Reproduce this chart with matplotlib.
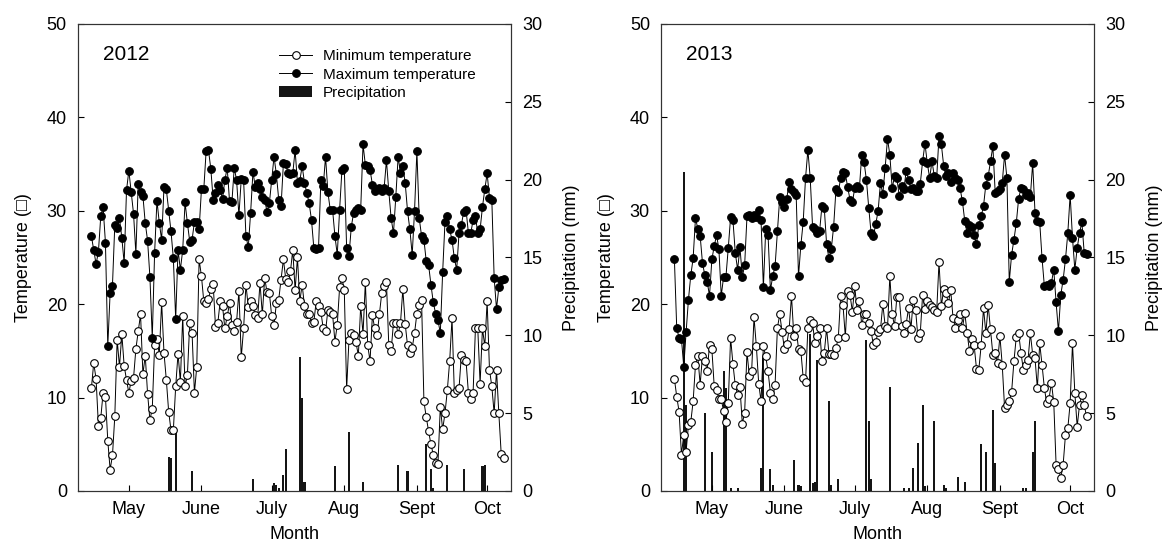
import pandas as pd
import matplotlib
matplotlib.use("Agg")
import matplotlib.pyplot as plt
from matplotlib.lines import Line2D
from matplotlib.patches import Patch

plt.rcParams['font.family'] = ['Liberation Sans', 'DejaVu Sans']

# daily series start on 29 April of each year
start_2012 = '2012-04-29'
start_2013 = '2013-04-29'

tmax_2012 = [27.3, 25.8, 24.3, 25.6, 29.4, 30.4, 26.6, 15.5, 21.2, 22.0,
             28.5, 28.2, 29.2, 27.1, 24.4, 32.2, 34.3, 32.0, 29.7, 25.4,
             32.9, 32.0, 31.6, 28.7, 26.8, 22.9, 16.4, 25.5, 31.1, 28.7,
             26.9, 32.5, 32.3, 30.0, 27.8, 24.9, 18.4, 25.8, 23.7, 25.8,
             30.9, 28.7, 26.7,
             26.9, 28.8, 28.8, 28.0, 32.3, 32.3, 36.4, 36.5, 34.5, 31.2,
             31.9, 32.8, 32.2, 31.3, 33.3, 34.6, 31.0, 30.9, 34.6, 33.3,
             29.5, 33.4, 33.3, 27.3, 26.1, 29.8, 34.2, 32.5, 33.0, 32.3,
             31.5, 31.2, 29.9, 30.8, 33.3, 35.8, 33.9, 31.2, 30.5, 35.1,
             35.0, 34.0, 33.9, 34.0, 36.5, 33.0, 33.2, 34.8, 33.0, 31.9,
             30.8,
             29.0, 26.0, 25.9, 26.0, 33.3, 32.6, 35.8, 32.0, 30.1, 30.1,
             27.3, 25.3, 30.1, 34.4, 34.6, 26.0, 25.2, 28.3, 29.8, 30.1,
             30.3, 30.1, 37.1, 34.9, 34.8, 34.4, 32.8, 32.1, 32.3, 32.4,
             32.1, 32.4, 35.4, 32.1, 29.2, 27.6, 31.5, 35.8, 34.0, 34.8,
             33.0, 30.0, 28.0, 25.3, 30.0, 36.4, 29.2, 27.3, 26.9, 24.6,
             24.2, 22.1, 20.2, 19.0, 18.3, 16.9, 23.4, 28.8, 29.4, 28.0,
             26.9, 24.9, 23.7, 27.6, 28.5, 29.9, 30.1, 27.6, 27.6, 29.0,
             29.4, 27.6, 28.0, 30.4, 32.3, 34.0, 31.4, 31.2, 22.8, 19.5,
             21.8, 22.6, 22.7]

tmin_2012 = [11.0, 13.7, 12.0, 7.0, 7.8, 10.5, 10.1, 5.4, 2.3, 3.8,
             8.0, 16.2, 13.3, 16.8, 13.4, 11.9, 10.5, 11.8, 12.1, 15.2,
             17.1, 18.9, 12.5, 14.5, 10.4, 7.6, 8.8, 15.6, 16.3, 14.6,
             20.2, 14.8, 11.9, 8.5, 6.5, 6.5, 11.2, 14.7, 11.7, 18.7,
             11.2, 12.4, 18.0, 16.9, 10.5, 13.3, 24.8, 23.0, 20.3, 20.1,
             20.6, 21.6, 22.2, 17.6, 18.0, 20.3, 19.8, 17.4, 18.7, 20.1,
             17.8, 17.1, 18.1, 21.4, 14.3, 17.4, 22.1, 19.7, 20.3, 19.8,
             18.8, 18.5, 22.3, 18.9, 22.8, 21.3, 21.2, 18.7, 17.8, 20.1,
             20.5, 22.6, 24.8, 22.7, 22.4, 23.5, 25.8, 21.5, 25.0, 20.3,
             22.1, 19.8, 18.9, 19.0,
             18.0, 18.1, 20.3, 19.8, 19.2, 17.4, 17.1, 19.4, 19.2, 18.9,
             16.0, 17.8, 21.8, 22.8, 21.5, 10.9, 16.2, 16.9, 16.7, 15.9,
             14.5, 19.8, 16.8, 22.4, 15.6, 13.9, 18.8, 17.4, 16.7, 19.0,
             21.2, 22.0, 22.4, 15.6, 15.0, 18.0, 18.0, 16.8, 18.0, 21.6,
             17.9, 15.6, 14.8, 15.3, 16.9, 19.0, 19.9, 20.5, 9.6, 7.9,
             6.4, 5.0, 3.9, 3.0, 2.9, 9.0, 6.6, 8.3, 10.8, 13.9,
             18.5, 10.5, 10.8, 11.0, 14.6, 14.0, 13.9, 10.5, 9.9, 10.5,
             17.4, 17.4, 11.5, 17.4, 15.5, 20.3, 13.0, 11.2, 8.3, 13.0,
             8.3, 4.0, 3.5]

tmax_2013 = [24.8, 17.4, 16.4, 16.3, 13.3, 17.0, 20.5, 23.1, 24.9, 29.2,
             28.1, 27.3, 24.4, 23.1, 22.4, 20.9, 24.8, 26.2, 27.4, 25.9,
             20.9, 22.9, 22.9, 26.0, 29.3, 29.0, 25.5, 23.7, 26.1, 22.9,
             24.2, 29.4, 29.6, 29.2, 29.5, 29.3, 30.1, 29.0, 21.8, 28.0,
             27.4, 21.5, 23.0, 24.1, 27.8, 31.5, 30.9, 30.4, 31.3, 33.1,
             32.3, 32.0, 31.7, 23.0, 26.3, 28.8, 33.5, 36.5, 33.5, 28.3,
             28.0, 27.6, 27.8, 30.5, 30.3, 26.4, 24.9, 25.9, 28.3, 32.3,
             32.0, 33.5, 34.1, 34.0, 32.5, 31.2, 30.9, 32.4, 32.6, 32.4,
             36.0, 35.2, 33.3, 30.3, 27.6, 27.3, 28.6, 30.0, 33.0, 31.8,
             34.6, 37.7, 36.0,
             32.4, 33.7, 33.5, 31.6, 32.6, 32.3, 34.3, 33.3, 32.3, 32.4,
             32.1, 32.1, 32.9, 35.3, 37.2, 35.1, 33.5, 35.3, 33.7, 33.5,
             38.0, 37.1, 34.8, 33.7, 34.0, 33.1, 34.0, 33.5, 33.3, 32.4,
             31.0, 28.9, 27.6, 28.5, 28.3, 27.4, 26.4, 28.5, 29.4, 30.5,
             32.8, 33.7, 35.3, 36.9, 31.9, 32.1, 32.3, 33.0, 36.0, 33.5,
             22.4, 25.3, 26.9, 28.7, 31.3, 32.4, 32.3, 31.7, 31.9, 31.5,
             35.1, 29.8, 28.9, 28.8, 24.9, 21.9, 22.1, 21.9, 22.3, 23.7,
             20.2, 17.1, 21.0, 22.6, 24.8, 27.6, 31.7, 27.1, 23.7, 26.0,
             27.6, 28.8, 25.5, 25.4]

tmin_2013 = [12.0, 10.1, 8.5, 3.9, 6.0, 4.2, 7.1, 7.4, 9.6, 13.5,
             14.4, 11.4, 14.5, 13.9, 12.9, 15.6, 15.2, 11.2, 10.8, 9.9,
             9.8, 8.6, 7.4, 9.4, 16.4, 13.6, 11.3, 10.3, 11.1, 7.2,
             8.4, 14.9, 12.3, 12.9, 18.6, 15.5, 11.5, 9.6, 15.5, 14.4,
             12.8, 10.5, 9.9, 11.4, 17.5, 18.9, 17.0, 15.2, 15.7, 17.3,
             20.9, 16.6, 17.4, 15.2, 15.0, 12.1, 11.7, 17.4, 18.3, 18.0,
             15.8, 16.6, 17.5, 13.9, 14.8, 17.4, 14.7, 14.7, 14.6, 15.3,
             16.4, 20.9, 19.9, 16.5, 21.4, 21.0, 19.2, 21.9, 19.4, 20.3,
             17.8, 18.9, 18.9, 18.0, 17.1, 15.6, 16.0, 17.0, 17.3, 20.0,
             17.7, 17.4,
             23.0, 18.9, 17.7, 20.8, 20.8, 17.7, 16.9, 17.9, 19.6, 17.3,
             20.5, 19.4, 16.4, 16.9, 21.0, 19.5, 20.3, 19.9, 19.7, 19.4,
             19.2, 24.5, 19.8, 21.6, 21.2, 20.1, 21.5, 18.5, 17.5, 18.3,
             18.9, 17.4, 19.1, 16.9, 15.0, 16.3, 15.6, 13.1, 13.0, 15.6,
             19.6, 16.9, 19.9, 17.3, 14.6, 14.8, 13.7, 16.6, 13.5, 8.9,
             9.2, 9.6, 10.6, 13.9, 16.5, 16.9, 14.8, 13.0, 13.5, 14.0,
             16.9, 14.6, 14.2, 11.0, 15.8, 13.5, 11.0, 9.4, 9.9, 11.6,
             9.5, 2.8, 2.4, 1.4, 2.8, 6.0, 6.7, 9.4, 15.8, 10.5,
             6.9, 9.2, 10.3, 9.2, 8.0]

rain_days_2012 = ['2012-06-01', '2012-06-02', '2012-06-04', '2012-06-11',
                  '2012-07-07', '2012-07-16', '2012-07-17', '2012-07-18',
                  '2012-07-20', '2012-07-21', '2012-07-27', '2012-07-28',
                  '2012-07-29', '2012-08-11', '2012-08-17', '2012-08-23',
                  '2012-09-07', '2012-09-11', '2012-09-19', '2012-09-21',
                  '2012-09-22', '2012-09-28', '2012-10-05', '2012-10-13',
                  '2012-10-14']
rain_2012 = [2.2, 2.1, 3.8, 1.3,
             0.8, 0.5, 0.4, 0.2,
             1.0, 2.7, 8.6, 6.0,
             0.6, 1.6, 3.8, 0.6,
             1.7, 1.3, 3.0, 1.4,
             0.2, 1.7, 1.4, 1.6,
             1.7]

rain_days_2013 = ['2013-05-03', '2013-05-04', '2013-05-12', '2013-05-15',
                  '2013-05-20', '2013-05-21', '2013-05-23', '2013-05-26',
                  '2013-06-05', '2013-06-06', '2013-06-09', '2013-06-10',
                  '2013-06-19', '2013-06-21', '2013-06-22', '2013-06-26',
                  '2013-06-27', '2013-06-28', '2013-06-29', '2013-07-04',
                  '2013-07-05', '2013-07-08', '2013-07-20', '2013-07-21',
                  '2013-07-22', '2013-07-30', '2013-08-05', '2013-08-07',
                  '2013-08-09', '2013-08-11', '2013-08-13', '2013-08-14',
                  '2013-08-18', '2013-08-22', '2013-08-23', '2013-08-28',
                  '2013-08-31', '2013-09-07', '2013-09-09', '2013-09-12',
                  '2013-09-13', '2013-09-25', '2013-09-26', '2013-09-29',
                  '2013-09-30']
rain_2013 = [20.5, 5.5, 5.0, 2.5,
             7.7, 6.6, 0.2, 0.2,
             1.5, 8.7, 1.4, 0.4,
             2.0, 0.4, 0.3, 10.1,
             0.5, 0.6, 8.4, 5.8,
             0.4, 0.8, 9.7, 4.5,
             0.8, 6.7, 0.2, 0.2,
             1.5, 3.1, 5.5, 0.3,
             4.5, 0.4, 0.2, 0.9,
             0.6, 3.0, 2.5, 5.2,
             1.8, 0.2, 0.2, 2.5,
             4.5]

tick_months = [5, 6, 7, 8, 9, 10]
month_labels = ['May', 'June', 'July', 'Aug', 'Sept', 'Oct']


def draw_panel(ax, year, start, tmin, tmax, rain_days, rain):
    days = pd.date_range(start, periods=len(tmin), freq='D')
    ax2 = ax.twinx()
    ax2.bar(pd.to_datetime(rain_days), rain, width=0.9, color='#151515')
    # temperatures drawn above the bars
    ax.set_zorder(ax2.get_zorder() + 1)
    ax.patch.set_visible(False)
    ax.plot(days, tmin, '-o', color='black', lw=0.7, ms=5.5, mfc='white', mew=0.8)
    ax.plot(days, tmax, '-o', color='black', lw=0.7, ms=5.5, mfc='black', mew=0.8)

    ax.set_xlim(days[0] - pd.Timedelta(days=5.7), days[0] + pd.Timedelta(days=179.2))
    ax.set_ylim(0, 50)
    ax2.set_ylim(0, 30)
    ax.set_yticks(range(0, 51, 10))
    ax2.set_yticks(range(0, 31, 5))
    ax.set_xticks([pd.Timestamp(year, m, 15) for m in tick_months])
    ax.set_xticklabels(month_labels)

    ax.tick_params(axis='both', direction='in', length=4, labelsize=13, width=0.8)
    ax.tick_params(axis='x', pad=7)
    ax.tick_params(axis='y', pad=8)
    ax2.tick_params(axis='y', direction='in', length=4, labelsize=13, width=0.8, pad=8)
    for a in (ax, ax2):
        for s in a.spines.values():
            s.set_linewidth(0.8)
            s.set_color('#333333')

    ax.set_xlabel('Month', fontsize=13, labelpad=6)
    ax.set_ylabel('Temperature (\u25a1)', fontsize=13, labelpad=11)
    ax2.set_ylabel('Precipitation (mm)', fontsize=13, labelpad=15)
    ax.text(0.058, 0.934, str(year), transform=ax.transAxes, fontsize=15, va='center')
    return ax2


fig = plt.figure(figsize=(11.63, 5.45), dpi=100)
ax_a = fig.add_axes([0.0671, 0.0991, 0.3723, 0.8569])
ax_b = fig.add_axes([0.5684, 0.0991, 0.3723, 0.8569])

draw_panel(ax_a, 2012, start_2012, tmin_2012, tmax_2012, rain_days_2012, rain_2012)
draw_panel(ax_b, 2013, start_2013, tmin_2013, tmax_2013, rain_days_2013, rain_2013)

handles = [Line2D([], [], color='black', lw=0.7, marker='o', ms=5.5, mfc='white', mew=0.8),
           Line2D([], [], color='black', lw=0.7, marker='o', ms=5.5, mfc='black', mew=0.8),
           Patch(facecolor='#151515')]
ax_a.legend(handles, ['Minimum temperature', 'Maximum temperature', 'Precipitation'],
            loc='upper left', bbox_to_anchor=(0.432, 0.976), frameon=False,
            fontsize=11, handlelength=2.2, handletextpad=0.7, labelspacing=0.3)

fig.savefig('out.png', dpi=100)
